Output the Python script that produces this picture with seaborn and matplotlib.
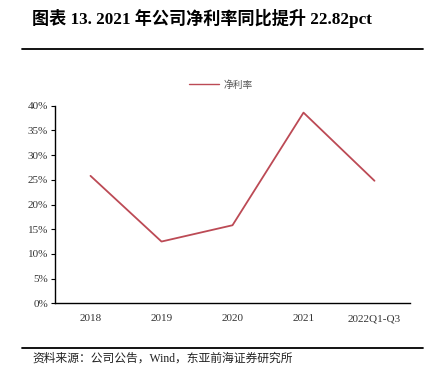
import matplotlib
matplotlib.use("Agg")
import matplotlib.pyplot as plt
import matplotlib.lines as mlines
import pandas as pd
import seaborn as sns
from matplotlib.ticker import PercentFormatter

periods = ["2018", "2019", "2020", "2021", "2022Q1-Q3"]
net_margin = [25.8, 12.5, 15.8, 38.6, 24.8]

LINE_COLOR = "#BC4A55"
CJK = ["Liberation Serif", "Noto Sans CJK SC", "DejaVu Sans"]

sns.set_theme(style="white")
plt.rcParams["font.family"] = CJK
plt.rcParams["axes.unicode_minus"] = False

df = pd.DataFrame({"period": periods, "净利率": net_margin})

fig = plt.figure(figsize=(4.30, 3.81), dpi=100)
ax = fig.add_axes([55 / 430, 1 - 303.3 / 381, 355 / 430, 197.6 / 381])

sns.lineplot(data=df, x="period", y="净利率", color=LINE_COLOR, linewidth=1.3,
             ax=ax, label="净利率", sort=False)

ax.set_xlim(-0.5, 4.5)
ax.set_ylim(0, 40)
ax.set_yticks(range(0, 41, 5))
ax.yaxis.set_major_formatter(PercentFormatter(decimals=0))
ax.set_xlabel("")
ax.set_ylabel("")

for side in ["top", "right"]:
    ax.spines[side].set_visible(False)
for side in ["left", "bottom"]:
    ax.spines[side].set_color("black")
    ax.spines[side].set_linewidth(1.0)

ax.tick_params(axis="y", which="major", left=True, length=3, width=0.8,
               color="black", labelsize=8, labelcolor="#333333", pad=2)
ax.tick_params(axis="x", bottom=False, labelsize=8, labelcolor="#333333", pad=2)

leg = ax.legend(loc="center", bbox_to_anchor=(221 / 430, 1 - 85 / 381),
                bbox_transform=fig.transFigure, frameon=False,
                fontsize=7, handlelength=3.0, handletextpad=0.5)
for line in leg.get_lines():
    line.set_linewidth(1.0)
for t in leg.get_texts():
    t.set_color("#555555")

fig.text(32 / 430, 1 - 18 / 381, "图表 13. 2021 年公司净利率同比提升 22.82pct",
         fontsize=12.3, fontweight="bold", ha="left", va="center", color="black")

fig.add_artist(mlines.Line2D([22 / 430, 423 / 430], [1 - 49 / 381, 1 - 49 / 381],
                             color="black", linewidth=1.3))
fig.add_artist(mlines.Line2D([22 / 430, 423 / 430], [1 - 348 / 381, 1 - 348 / 381],
                             color="black", linewidth=1.3))

fig.text(32 / 430, 1 - 359 / 381, "资料来源：公司公告，Wind，东亚前海证券研究所",
         fontsize=8.5, ha="left", va="center", color="#222222")

fig.savefig("out.png", dpi=100)
